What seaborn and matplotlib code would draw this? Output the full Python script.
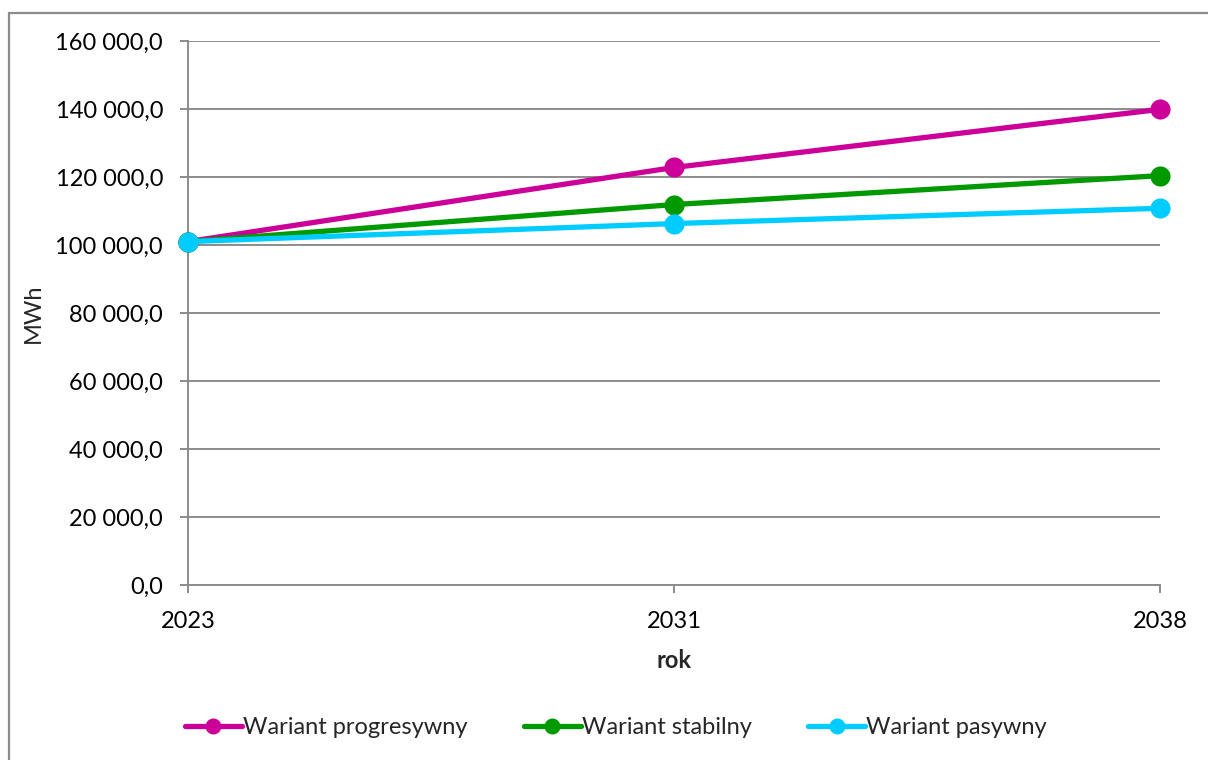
import matplotlib
matplotlib.use("Agg")
import matplotlib.pyplot as plt
from matplotlib.ticker import FuncFormatter, MultipleLocator
from matplotlib.patches import Rectangle
from matplotlib.lines import Line2D
import seaborn as sns
import pandas as pd

years = ["2023", "2031", "2038"]
progresywny = [101000, 122800, 139900]
stabilny = [101000, 111900, 120400]
pasywny = [101000, 106300, 110800]
series_names = ["Wariant progresywny", "Wariant stabilny", "Wariant pasywny"]
colors = ["#CC0099", "#009900", "#00CCFF"]

rows = []
for name, vals in zip(series_names, [progresywny, stabilny, pasywny]):
    for i, (yr, v) in enumerate(zip(years, vals)):
        rows.append({"idx": i, "rok": yr, "MWh": v, "wariant": name})
df = pd.DataFrame(rows)

sns.set_theme(style="white")
plt.rcParams["font.family"] = ["Lato", "DejaVu Sans"]
FS = 17
GRID = "#8C8C8C"

fig = plt.figure(figsize=(12.08, 7.6), dpi=100)
ax = fig.add_axes([188 / 1208, 1 - 585 / 760, (1160 - 188) / 1208, (585 - 41) / 760])

sns.lineplot(data=df, x="idx", y="MWh", hue="wariant", hue_order=series_names,
             palette=colors, marker="o", markersize=14.5, markeredgewidth=0,
             linewidth=3.8, sort=False, legend=False, ax=ax, zorder=3,
             clip_on=False)

ax.set_xlim(0, len(years) - 1)
ax.set_ylim(0, 160000)
ax.yaxis.set_major_locator(MultipleLocator(20000))
ax.set_xticks(range(len(years)))
ax.set_xticklabels(years)
ax.yaxis.set_major_formatter(FuncFormatter(
    lambda v, p: f"{v:,.1f}".replace(",", " ").replace(".", ",")))

ax.grid(axis="y", color=GRID, linewidth=1.4, zorder=0)
ax.grid(axis="x", visible=False)
for s in ["top", "right"]:
    ax.spines[s].set_visible(False)
for s in ["left", "bottom"]:
    ax.spines[s].set_color(GRID)
    ax.spines[s].set_linewidth(1.4)
ax.tick_params(axis="both", which="major", direction="out", length=6,
               width=1.4, color=GRID, labelsize=FS, labelcolor="black")
ax.tick_params(axis="y", pad=12, left=True)
ax.tick_params(axis="x", pad=13, bottom=True)

ax.set_xlabel("rok", fontsize=FS, fontweight="bold", labelpad=12)
ax.set_ylabel("MWh", fontsize=FS, labelpad=8)

handles = [Line2D([0], [0], color=c, linewidth=3.8, marker="o", markersize=11.5,
                  markeredgewidth=0) for c in colors]
fig.legend(handles, series_names, loc="center", ncol=3,
           bbox_to_anchor=(616 / 1208, 1 - 728 / 760), frameon=False,
           fontsize=FS, handlelength=2.4, handletextpad=0.05, columnspacing=2.4)

fig.patches.append(Rectangle((8.5 / 1208, -0.1), 1.2, 1.1 - 12.5 / 760,
                             transform=fig.transFigure, fill=False,
                             edgecolor="#8C8C8C", linewidth=1.6))

fig.savefig("out.png", dpi=100)
